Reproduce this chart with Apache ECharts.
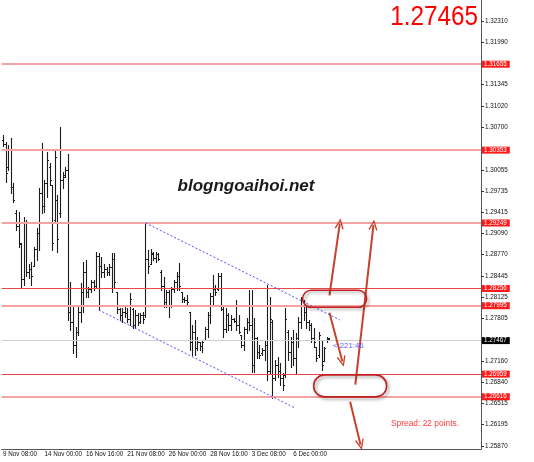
<!DOCTYPE html>
<html>
<head>
<meta charset="utf-8">
<script src="https://cdn.jsdelivr.net/npm/echarts@6/dist/echarts.min.js"></script>
<style>
  html, body { margin: 0; padding: 0; background: #fff; }
  #chart { width: 534px; height: 462px; }
</style>
</head>
<body>
<div id="chart"></div>
<script>
// H4 bars, index 0 = 9 Nov 08:00
var tickLabels = ["9 Nov 08:00", "14 Nov 00:00", "16 Nov 16:00", "21 Nov 08:00",
  "26 Nov 00:00", "28 Nov 16:00", "3 Dec 08:00", "6 Dec 00:00"];
var barsPerTick = 16;
var slotCount = 185; // bars + empty space on the right

var barOpen = [
  1.3050,1.3045,1.3010,1.3035,1.2980,1.2940,1.2920,1.2893,1.2840,1.2925,
  1.2850,1.2855,1.2860,1.2885,1.2910,1.2970,1.2950,1.2985,1.3010,1.2983,
  1.2930,1.2960,1.2940,1.2990,1.2998,1.3005,1.2790,1.2775,1.2740,1.2760,
  1.2790,1.2820,1.2850,1.2820,1.2825,1.2835,1.2830,1.2875,1.2860,1.2850,
  1.2855,1.2850,1.2858,1.2870,1.2820,1.2795,1.2785,1.2790,1.2788,1.2780,
  1.2795,1.2770,1.2785,1.2775,1.2785,1.2785,1.2870,1.2862,1.2878,1.2872,
  1.2878,1.2850,1.2830,1.2805,1.2820,1.2800,1.2825,1.2835,1.2845,1.2820,
  1.2810,1.2808,1.2790,1.2745,1.2760,1.2735,1.2745,1.2738,1.2748,1.2765,
  1.2785,1.2815,1.2825,1.2825,1.2845,1.2795,1.2765,1.2785,1.2770,1.2780,
  1.2777,1.2770,1.2755,1.2740,1.2765,1.2775,1.2770,1.2710,1.2750,1.2730,
  1.2728,1.2733,1.2740,1.2700,1.2775,1.2690,1.2710,1.2700,1.2690,1.2695,
  1.2760,1.2730,1.2745,1.2720,1.2750,1.2775,1.2800,1.2790,1.2775,1.2770,
  1.2750,1.2737,1.2725,1.2748,1.2715,1.2747,1.2749
];
var barHigh = [
  1.3058,1.3048,1.3043,1.3054,1.2986,1.2945,1.2942,1.2895,1.2934,1.2929,
  1.2862,1.2866,1.2889,1.2918,1.2978,1.3046,1.2990,1.3033,1.3016,1.2983,
  1.3036,1.2968,1.3071,1.3002,1.3010,1.3030,1.2836,1.2798,1.2768,1.2798,
  1.2834,1.2866,1.2869,1.2828,1.2839,1.2839,1.2881,1.2880,1.2874,1.2862,
  1.2858,1.2862,1.2880,1.2880,1.2821,1.2796,1.2796,1.2798,1.2796,1.2819,
  1.2796,1.2793,1.2789,1.2789,1.2790,1.2925,1.2884,1.2886,1.2881,1.2881,
  1.2880,1.2854,1.2843,1.2824,1.2824,1.2828,1.2839,1.2851,1.2865,1.2821,
  1.2813,1.2816,1.2790,1.2771,1.2778,1.2752,1.2745,1.2748,1.2768,1.2790,
  1.2819,1.2846,1.2831,1.2849,1.2849,1.2798,1.2796,1.2789,1.2786,1.2781,
  1.2808,1.2786,1.2755,1.2768,1.2781,1.2824,1.2824,1.2781,1.2752,1.2740,
  1.2736,1.2748,1.2831,1.2812,1.2778,1.2718,1.2722,1.2713,1.2698,1.2796,
  1.2763,1.2752,1.2763,1.2758,1.2783,1.2812,1.2808,1.2801,1.2778,1.2774,
  1.2766,1.2737,1.2760,1.2748,1.2737,1.2752,1.2751
];
var barLow = [
  1.3042,1.2987,1.3005,1.2971,1.2957,1.2915,1.2889,1.2826,1.2831,1.2845,
  1.2842,1.2831,1.2859,1.2869,1.2884,1.2940,1.2942,1.2965,1.2983,1.2884,
  1.2927,1.2881,1.2934,1.2978,1.2995,1.2778,1.2763,1.2728,1.2722,1.2755,
  1.2775,1.2790,1.2813,1.2813,1.2821,1.2824,1.2828,1.2793,1.2843,1.2843,
  1.2846,1.2846,1.2821,1.2828,1.2789,1.2778,1.2775,1.2783,1.2775,1.2771,
  1.2766,1.2766,1.2771,1.2774,1.2774,1.2783,1.2849,1.2862,1.2869,1.2866,
  1.2869,1.2824,1.2798,1.2798,1.2783,1.2798,1.2821,1.2824,1.2824,1.2805,
  1.2805,1.2801,1.2733,1.2725,1.2725,1.2733,1.2733,1.2730,1.2748,1.2752,
  1.2774,1.2801,1.2816,1.2824,1.2793,1.2752,1.2760,1.2763,1.2763,1.2775,
  1.2763,1.2758,1.2737,1.2733,1.2758,1.2763,1.2699,1.2699,1.2721,1.2721,
  1.2725,1.2718,1.2687,1.2698,1.2660,1.2687,1.2692,1.2680,1.2672,1.2692,
  1.2718,1.2707,1.2710,1.2698,1.2737,1.2766,1.2778,1.2766,1.2763,1.2745,
  1.2737,1.2715,1.2722,1.2702,1.2715,1.2745,1.2747
];
var barClose = [
  1.3045,1.3000,1.3035,1.2980,1.2960,1.2920,1.2895,1.2840,1.2925,1.2850,
  1.2855,1.2845,1.2885,1.2910,1.2970,1.2950,1.2985,1.3020,1.2990,1.2895,
  1.3025,1.2900,1.2990,1.2995,1.3005,1.2790,1.2775,1.2740,1.2760,1.2790,
  1.2820,1.2850,1.2820,1.2825,1.2835,1.2830,1.2875,1.2860,1.2850,1.2855,
  1.2850,1.2858,1.2870,1.2835,1.2795,1.2785,1.2790,1.2788,1.2780,1.2810,
  1.2770,1.2785,1.2775,1.2785,1.2780,1.2870,1.2860,1.2880,1.2872,1.2878,
  1.2870,1.2830,1.2805,1.2820,1.2800,1.2825,1.2835,1.2845,1.2830,1.2810,
  1.2808,1.2805,1.2745,1.2760,1.2735,1.2745,1.2738,1.2745,1.2765,1.2785,
  1.2815,1.2825,1.2820,1.2845,1.2800,1.2765,1.2785,1.2770,1.2780,1.2777,
  1.2770,1.2760,1.2740,1.2765,1.2775,1.2770,1.2710,1.2750,1.2730,1.2725,
  1.2733,1.2740,1.2700,1.2780,1.2690,1.2710,1.2700,1.2690,1.2680,1.2780,
  1.2730,1.2745,1.2720,1.2750,1.2775,1.2800,1.2790,1.2775,1.2770,1.2750,
  1.2745,1.2720,1.2755,1.2710,1.2735,1.2750,1.2747
];

var priceTicks = [1.32310, 1.31990, 1.31345, 1.31020, 1.30700, 1.30055, 1.29735,
  1.29415, 1.29090, 1.28770, 1.28445, 1.28125, 1.27805, 1.27160, 1.26840,
  1.26515, 1.26195, 1.25870];
var levelValues = [1.31655, 1.30353, 1.29249, 1.28256, 1.27995, 1.26959, 1.26616];
var currentPrice = 1.27467;
var bidText = "1.27465";

// drawn objects: [barIndex, price]
var trendUpper = [[55, 1.2925], [130, 1.2778]];
var trendLower = [[37, 1.2793], [113, 1.2644]];
var arrowsUp = [[[126, 1.2815], [130, 1.2924]], [[136, 1.2680], [143, 1.2922]]];
var arrowsDown = [[[126, 1.2789], [131, 1.2715]], [[134, 1.2654], [138, 1.2589]]];
var zoneCenters = [[128, 1.2810], [134, 1.2678]];

var categories = [];
for (var k = 0; k < slotCount; k++) {
  categories.push(k % barsPerTick === 0 && k / barsPerTick < tickLabels.length ? tickLabels[k / barsPerTick] : "");
}
var bars = barOpen.map(function (o, i) {
  return [i, o, barHigh[i], barLow[i], barClose[i]];
});
function isTick(index) {
  return index % barsPerTick === 0 && index / barsPerTick < tickLabels.length;
}

var softLevels = [1.31655, 1.30353, 1.29249, 1.27995, 1.26616];
var levelLines = levelValues.map(function (v) {
  var soft = softLevels.indexOf(v) >= 0;
  return {
    yAxis: v,
    lineStyle: { color: soft ? "#f4a3a3" : "#e84848", width: soft ? 2 : 1, type: "solid" },
    label: { backgroundColor: "#ff1a1a" }
  };
});
levelLines.push({
  yAxis: currentPrice,
  lineStyle: { color: "#cfcfcf", width: 1, type: "solid" },
  label: { backgroundColor: "#000" }
});

var arrowHead = "path://M0,10 L5,0 L10,10 L8.6,10.6 L5,3 L1.4,10.6 Z";
function toSeg(pair) {
  return [{ coord: pair[0] }, { coord: pair[1] }];
}

var chart = echarts.init(document.getElementById("chart"));

function renderBar(params, api) {
  var i = api.value(0);
  var hi = api.coord([i, api.value(2)]);
  var lo = api.coord([i, api.value(3)]);
  var op = api.coord([i, api.value(1)]);
  var cl = api.coord([i, api.value(4)]);
  var x = Math.round(hi[0]) + 0.5;
  var oy = Math.round(op[1]) + 0.5;
  var cy = Math.round(cl[1]) + 0.5;
  var st = { stroke: "#1c1c1c", lineWidth: 1.1 };
  return {
    type: "group",
    children: [
      { type: "line", shape: { x1: x, y1: Math.round(hi[1]), x2: x, y2: Math.round(lo[1]) + 1 }, style: st },
      { type: "line", shape: { x1: x - 1.5, y1: oy, x2: x, y2: oy }, style: st },
      { type: "line", shape: { x1: x, y1: cy, x2: x + 1.5, y2: cy }, style: st }
    ]
  };
}

chart.setOption({
  animation: false,
  backgroundColor: "#fff",
  textStyle: { fontFamily: "Liberation Sans" },
  grid: { left: 0, right: 53, top: 0, bottom: 13, containLabel: false },
  xAxis: {
    type: "category",
    data: categories,
    boundaryGap: true,
    axisLine: { lineStyle: { color: "#555", width: 1 } },
    axisTick: { interval: function (idx) { return isTick(idx); }, alignWithLabel: true, length: 3, lineStyle: { color: "#333" } },
    axisLabel: {
      interval: function (idx) { return isTick(idx); },
      align: "left",
      margin: 2,
      fontSize: 6.3,
      color: "#111"
    },
    splitLine: { show: false }
  },
  yAxis: {
    type: "value",
    position: "right",
    min: 1.25824,
    max: 1.32628,
    scale: true,
    axisLine: { show: true, lineStyle: { color: "#555", width: 1 } },
    axisTick: { show: true, customValues: priceTicks, length: 3, lineStyle: { color: "#333" } },
    axisLabel: {
      customValues: priceTicks,
      margin: 4,
      fontSize: 6.3,
      color: "#111",
      formatter: function (v) { return v.toFixed(5); }
    },
    splitLine: { show: false }
  },
  series: [
    {
      type: "line",
      data: [],
      silent: true,
      markLine: {
        silent: true,
        symbol: "none",
        precision: 5,
        label: {
          position: "end",
          distance: 1,
          color: "#fff",
          fontSize: 6.3,
          padding: [1, 3, 0, 2],
          formatter: function (p) { return p.value.toFixed(5); }
        },
        data: levelLines
      }
    },
    {
      type: "custom",
      renderItem: renderBar,
      encode: { x: 0, y: [1, 2, 3, 4] },
      data: bars,
      clip: true,
      z: 3
    },
    {
      type: "line",
      data: [],
      silent: true,
      markLine: {
        silent: true,
        symbol: "none",
        label: { show: false },
        lineStyle: { color: "#4f4fff", width: 1, type: [2, 2] },
        data: [toSeg(trendUpper), toSeg(trendLower)]
      }
    },
    {
      type: "line",
      data: [],
      silent: true,
      z: 5,
      markLine: {
        silent: true,
        symbol: ["none", arrowHead],
        symbolSize: [9, 11],
        label: { show: false },
        lineStyle: { color: "#c5432c", width: 2, type: "solid" },
        data: arrowsUp.map(toSeg).concat(arrowsDown.map(toSeg))
      }
    }
  ]
});

// zones drawn around the drawn price areas, plus texts
var zoneSize = [[64, 17], [73, 22]];
var extras = zoneCenters.map(function (c, j) {
  var p = chart.convertToPixel({ seriesIndex: 1 }, c);
  var w = zoneSize[j][0], h = zoneSize[j][1];
  return {
    type: "rect",
    shape: { x: p[0] - w / 2, y: p[1] - h / 2, width: w, height: h, r: h / 2 },
    style: {
      fill: "none",
      stroke: "#c41e1e",
      lineWidth: 1.6,
      shadowBlur: 3,
      shadowColor: "rgba(0,0,0,0.35)",
      shadowOffsetX: 2,
      shadowOffsetY: 2
    },
    z: 10
  };
});
var cur = chart.convertToPixel({ seriesIndex: 1 }, [127, currentPrice]);
extras.push({
  type: "text",
  x: cur[0] + 1,
  y: cur[1] + 5,
  style: { text: "< 221:46", fill: "#5a5aff", fontSize: 7.8, fontFamily: "Liberation Sans", textVerticalAlign: "middle" },
  z: 10
});
extras.push({
  type: "text",
  x: 246,
  y: 186,
  style: {
    text: "blogngoaihoi.net",
    fill: "#1a1a1a",
    fontSize: 17,
    fontWeight: "bold",
    fontStyle: "italic",
    fontFamily: "Liberation Sans",
    textAlign: "center",
    textVerticalAlign: "middle"
  },
  z: 10
});
extras.push({
  type: "text",
  x: 391,
  y: 424,
  style: { text: "Spread: 22 points.", fill: "#ff3b3b", fontSize: 8.4, fontFamily: "Liberation Sans", textVerticalAlign: "middle" },
  z: 10
});
extras.push({
  type: "text",
  x: 478,
  y: 18,
  scaleX: 0.9,
  originX: 0,
  originY: 0,
  style: {
    text: bidText,
    fill: "#ff0000",
    fontSize: 27,
    fontFamily: "Liberation Sans",
    textAlign: "right",
    textVerticalAlign: "middle"
  },
  z: 10
});
chart.setOption({ graphic: extras });
</script>
</body>
</html>
